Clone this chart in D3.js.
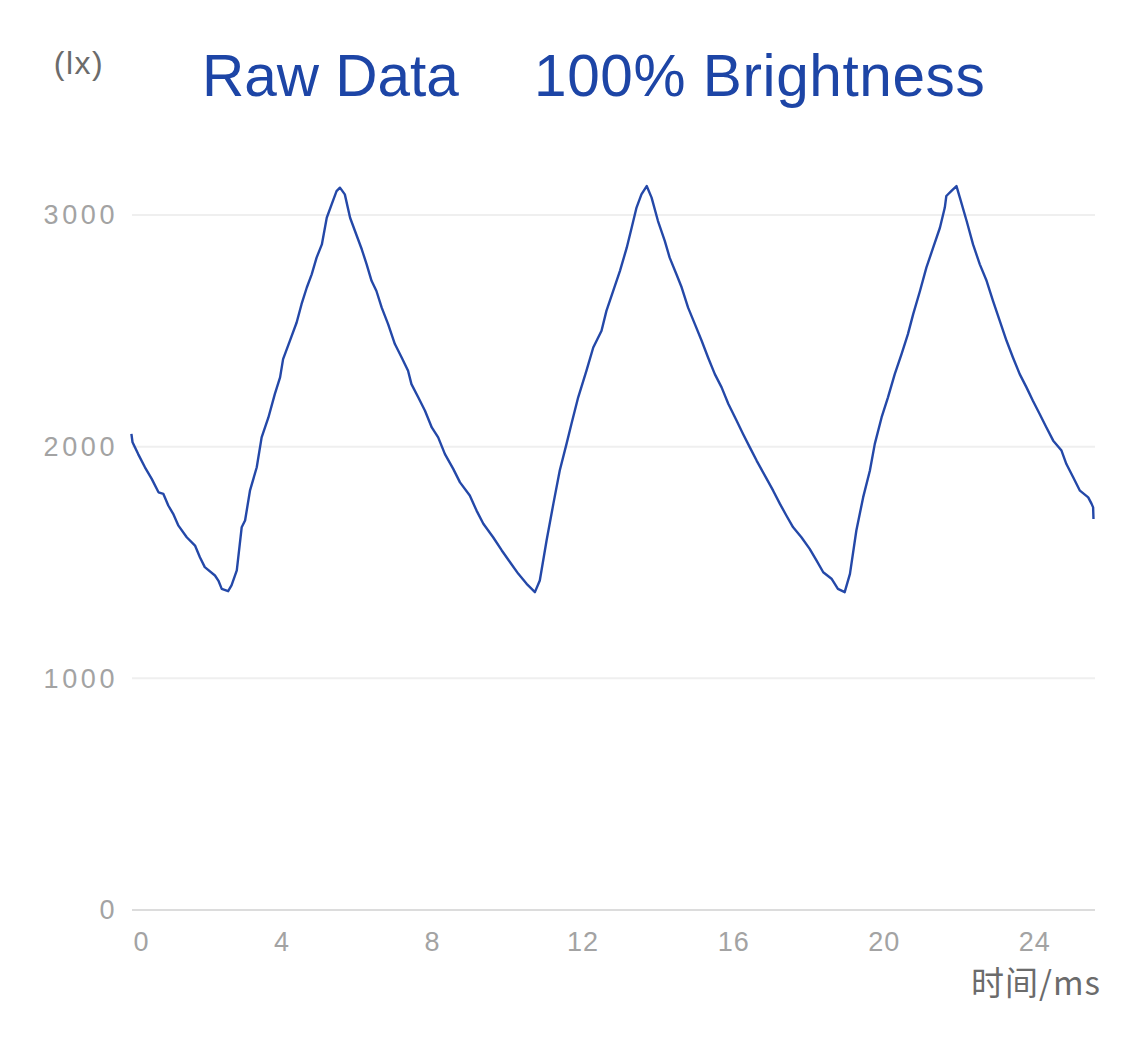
<!DOCTYPE html>
<html><head><meta charset="utf-8">
<script src="https://cdn.jsdelivr.net/npm/d3@7"></script>
<style>body{margin:0;background:#fff}svg{display:block}</style>
</head><body><svg id="c" width="1125" height="1040"></svg>
<script>
const titleParts = ["Raw Data", "100% Brightness"];
const yUnit = "(lx)";
const xName = "时间/ms";
const yTicks = [0, 1000, 2000, 3000];
const xTicks = [0, 4, 8, 12, 16, 20, 24];
const xMax = 25.6;
// time in ms, illuminance in lx
const timeMs = [0.0,0.03,0.18,0.36,0.54,0.72,0.85,0.98,1.11,1.25,1.47,1.69,1.82,1.95,2.22,2.31,2.40,2.57,2.66,2.80,2.93,3.02,3.15,3.33,3.46,3.64,3.81,3.95,4.03,4.21,4.39,4.52,4.66,4.79,4.92,5.06,5.19,5.32,5.45,5.54,5.67,5.81,5.94,6.12,6.25,6.38,6.51,6.65,6.82,7.00,7.18,7.35,7.44,7.62,7.80,7.98,8.15,8.33,8.55,8.73,8.99,9.17,9.35,9.61,9.84,10.06,10.28,10.50,10.72,10.85,11.03,11.21,11.38,11.56,11.69,11.87,12.09,12.27,12.49,12.62,12.80,12.98,13.16,13.29,13.42,13.55,13.69,13.82,13.99,14.17,14.30,14.48,14.62,14.79,14.97,15.15,15.32,15.50,15.68,15.86,16.08,16.25,16.43,16.61,16.83,17.05,17.23,17.40,17.58,17.80,18.02,18.20,18.38,18.60,18.77,18.95,19.09,19.26,19.44,19.62,19.75,19.93,20.10,20.28,20.46,20.63,20.77,20.95,21.12,21.30,21.48,21.61,21.65,21.78,21.92,22.01,22.19,22.36,22.54,22.72,22.89,23.07,23.25,23.42,23.60,23.78,23.95,24.13,24.31,24.49,24.71,24.84,25.02,25.20,25.42,25.51,25.55,25.56];
const lux = [2055,2019,1968,1911,1861,1803,1796,1746,1710,1659,1609,1573,1523,1480,1444,1422,1386,1376,1401,1466,1652,1681,1810,1911,2040,2126,2227,2299,2378,2457,2536,2615,2687,2744,2816,2873,2988,3046,3103,3118,3089,2988,2931,2852,2787,2716,2672,2600,2529,2443,2385,2328,2270,2213,2155,2083,2040,1968,1904,1846,1789,1724,1667,1609,1552,1501,1451,1408,1372,1422,1595,1753,1897,2012,2098,2213,2328,2428,2500,2586,2672,2759,2859,2945,3032,3089,3125,3075,2974,2888,2816,2744,2687,2600,2529,2457,2385,2313,2256,2184,2112,2055,1997,1940,1875,1810,1753,1703,1652,1609,1559,1509,1458,1430,1386,1372,1451,1638,1781,1897,2012,2126,2213,2313,2399,2486,2572,2672,2773,2859,2945,3032,3082,3103,3125,3075,2974,2873,2787,2716,2629,2543,2457,2385,2313,2256,2198,2141,2083,2026,1983,1925,1868,1810,1781,1753,1738,1688];

const svg = d3.select("#c");
const L = 133, R = 1095, T = 215, B = 910;
const x = d3.scaleLinear().domain([0, xMax]).range([L - 1.6, R]);
const y = d3.scaleLinear().domain([0, 3000]).range([B, T]);

// grid
svg.append("g").selectAll("line").data(yTicks.filter(d => d > 0)).join("line")
  .attr("x1", L - 1).attr("x2", R).attr("y1", d => y(d)).attr("y2", d => y(d))
  .attr("stroke", "#efefef").attr("stroke-width", 2);
svg.append("line").attr("x1", L - 1).attr("x2", R).attr("y1", y(0)).attr("y2", y(0))
  .attr("stroke", "#dcdcdc").attr("stroke-width", 2);

const font = "'Liberation Sans', Arial, sans-serif";
// y labels
svg.append("g").selectAll("text").data(yTicks).join("text")
  .attr("x", 118).attr("y", d => y(d)).attr("dy", "0.35em")
  .attr("text-anchor", "end").attr("font-family", font).attr("font-size", 27)
  .attr("letter-spacing", 3.6).attr("fill", "#a3a3a3").text(d => d);
// x labels
svg.append("g").selectAll("text").data(xTicks).join("text")
  .attr("x", d => d === 0 ? x(d) + 2 : x(d)).attr("y", 951)
  .attr("text-anchor", d => d === 0 ? "start" : "middle")
  .attr("font-family", font).attr("font-size", 27).attr("letter-spacing", 1)
  .attr("fill", "#a3a3a3").text(d => d);

// axis names
svg.append("text").attr("x", 1101).attr("y", 995).attr("text-anchor", "end")
  .attr("font-family", "'Noto Sans CJK SC', " + font).attr("font-size", 33)
  .attr("letter-spacing", 1).attr("fill", "#6b6b6b").text(xName);
svg.append("text").attr("x", 79).attr("y", 74).attr("text-anchor", "middle")
  .attr("font-family", font).attr("font-size", 32).attr("letter-spacing", 1.5)
  .attr("fill", "#6b6b6b").text(yUnit);

// title
svg.append("text").attr("x", 202).attr("y", 96).attr("font-family", font)
  .attr("font-size", 58.5).attr("fill", "#1d45a6").text(titleParts[0]);
svg.append("text").attr("x", 534).attr("y", 96).attr("font-family", font)
  .attr("font-size", 58.5).attr("letter-spacing", 0.6).attr("fill", "#1d45a6").text(titleParts[1]);

// line
const pts = timeMs.map((t, i) => [t, lux[i]]);
svg.append("path").datum(pts)
  .attr("fill", "none").attr("stroke", "#2448a8").attr("stroke-width", 2.4)
  .attr("stroke-linejoin", "round")
  .attr("d", d3.line().x(d => x(d[0])).y(d => y(d[1])));
</script></body></html>
